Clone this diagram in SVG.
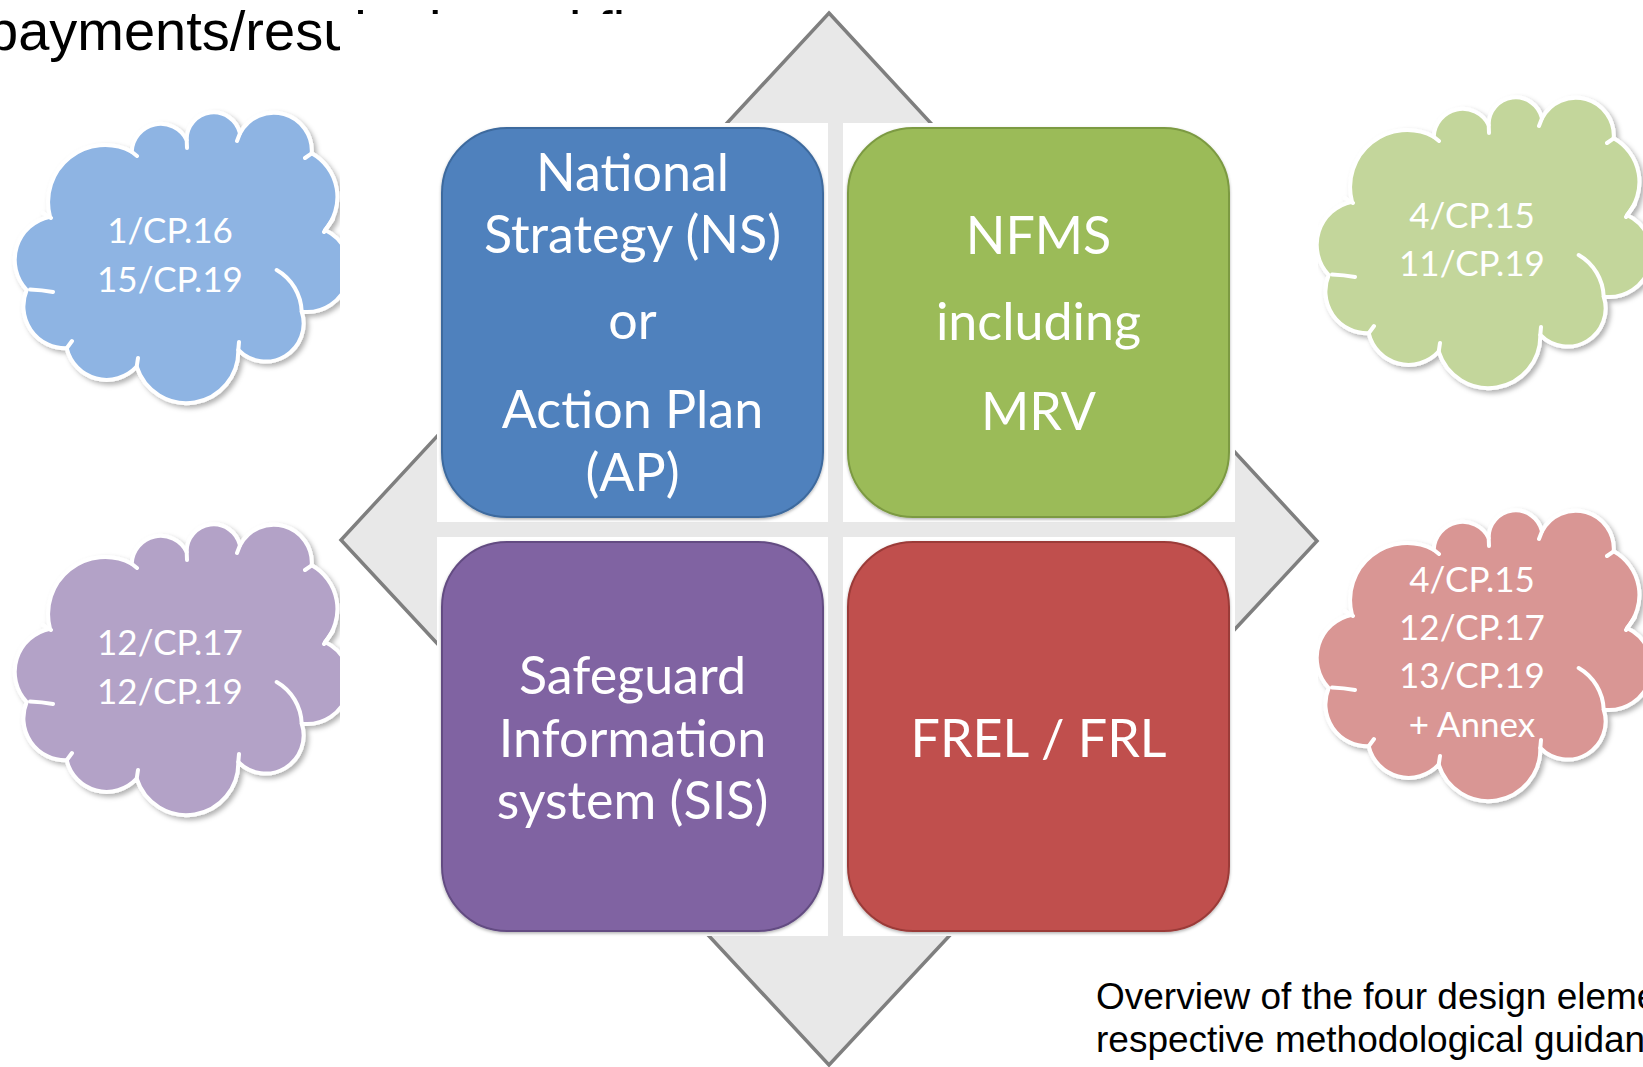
<svg xmlns="http://www.w3.org/2000/svg" width="1643" height="1067" viewBox="0 0 1643 1067">
<style>
.title{font-family:"Liberation Sans",Arial,sans-serif;font-size:56px;fill:#000}
.caption{font-family:"Liberation Sans",Arial,sans-serif;font-size:37px;fill:#000}
.bt{font-family:Lato,"Open Sans",sans-serif;font-size:52px;fill:#fff;text-anchor:middle}
.ct{font-family:Lato,"Open Sans",sans-serif;font-size:35px;fill:#fff;text-anchor:middle}
.cloud-body{stroke:#fff;stroke-width:4;stroke-linejoin:round}
.cloud-inner{fill:none;stroke:#fff;stroke-width:4;stroke-linecap:round}
.wbg{fill:#fff}
.diamond{fill:#e8e8e8;stroke:#7f7f7f;stroke-width:3.5;stroke-linejoin:miter}
</style>
<defs>
<filter id="sh" x="-10%" y="-10%" width="125%" height="125%">
<feDropShadow dx="3" dy="3" stdDeviation="2.5" flood-color="#000" flood-opacity="0.3"/>
</filter>
<filter id="bsh" x="-5%" y="-5%" width="110%" height="110%">
<feDropShadow dx="0" dy="1.5" stdDeviation="1.5" flood-color="#000" flood-opacity="0.3"/>
</filter>
<g id="cloudShape">
<path class="cloud-body" d="M 50 216.7 A 57 57 0 0 1 131.7 151.7 A 29 29 0 0 1 186.7 140 A 27 27 0 0 1 240 133.3 A 38 38 0 0 1 311.7 153.3 A 50 50 0 0 1 325 230 A 43 43 0 0 1 301.7 311.7 A 38 38 0 0 1 238.3 350 A 52 52 0 0 1 136.7 366.7 A 41 41 0 0 1 66.7 348.3 A 42 42 0 0 1 26.7 290 A 44 44 0 0 1 50 216.7 Z"/>
<path class="cloud-inner" d="M 43 213 L 51 218 M 30 289.5 Q 42 290 53 292 M 324 232 L 333 219 M 276.7 270 A 50 50 0 0 1 301.7 311.7 M 131.7 151.7 L 137 156 M 186.7 140 L 187 148 M 240 133.3 L 237 141 M 311.7 153.3 L 305 158 M 238.3 350 L 239 342 M 136.7 366.7 L 138 358 M 66.7 348.3 L 72 341"/>
</g>
</defs>

<text class="title" x="-13" y="50">payments/results-based finance</text>

<g id="cloud-ns">
<use href="#cloudShape" fill="#8EB4E3" filter="url(#sh)"/>
<text class="ct" x="170" y="243">1/CP.16</text>
<text class="ct" x="170" y="292">15/CP.19</text>
</g>
<g id="cloud-sis">
<use href="#cloudShape" fill="#B3A2C7" filter="url(#sh)" transform="translate(0,412)"/>
<text class="ct" x="170" y="655">12/CP.17</text>
<text class="ct" x="170" y="704">12/CP.19</text>
</g>
<g id="cloud-nfms">
<use href="#cloudShape" fill="#C3D69B" filter="url(#sh)" transform="translate(1302,-15)"/>
<text class="ct" x="1472" y="228">4/CP.15</text>
<text class="ct" x="1472" y="276">11/CP.19</text>
</g>
<g id="cloud-frel">
<use href="#cloudShape" fill="#D99694" filter="url(#sh)" transform="translate(1302,398)"/>
<text class="ct" x="1472" y="592">4/CP.15</text>
<text class="ct" x="1472" y="640">12/CP.17</text>
<text class="ct" x="1472" y="688">13/CP.19</text>
<text class="ct" x="1472" y="737">+ Annex</text>
</g>

<rect id="matrix-bg" x="340" y="14" width="978" height="1051" fill="#fff"/>

<g id="connectors">
<polygon class="diamond" points="829,13 1317,541 829,1065 341,540"/>
</g>

<g id="node-ns">
<rect class="wbg" x="437" y="123" width="391" height="399"/>
<rect x="442" y="128" width="381" height="389" rx="65" ry="65" fill="#4F81BD" stroke="#3E6A9E" stroke-width="2" filter="url(#bsh)"/>
<text class="bt" x="632.5" y="191">National</text>
<text class="bt" x="632.5" y="253">Strategy (NS)</text>
<text class="bt" x="632.5" y="339">or</text>
<text class="bt" x="632.5" y="428">Action Plan</text>
<text class="bt" x="632.5" y="491">(AP)</text>
</g>
<g id="node-nfms">
<rect class="wbg" x="843" y="123" width="392" height="399"/>
<rect x="848" y="128" width="381" height="389" rx="65" ry="65" fill="#9BBB59" stroke="#7C9A42" stroke-width="2" filter="url(#bsh)"/>
<text class="bt" x="1038.5" y="254">NFMS</text>
<text class="bt" x="1038.5" y="340">including</text>
<text class="bt" x="1038.5" y="430">MRV</text>
</g>
<g id="node-sis">
<rect class="wbg" x="437" y="537" width="391" height="399"/>
<rect x="442" y="542" width="381" height="389" rx="65" ry="65" fill="#8064A2" stroke="#634C82" stroke-width="2" filter="url(#bsh)"/>
<text class="bt" x="632.5" y="694">Safeguard</text>
<text class="bt" x="632.5" y="757">Information</text>
<text class="bt" x="632.5" y="819">system (SIS)</text>
</g>
<g id="node-frel">
<rect class="wbg" x="843" y="537" width="392" height="399"/>
<rect x="848" y="542" width="381" height="389" rx="65" ry="65" fill="#C0504D" stroke="#9B3B39" stroke-width="2" filter="url(#bsh)"/>
<text class="bt" x="1038.5" y="757">FREL / FRL</text>
</g>

<g id="caption">
<text class="caption" x="1096" y="1009">Overview of the four design elements and their</text>
<text class="caption" x="1096" y="1052">respective methodological guidance</text>
</g>
</svg>
